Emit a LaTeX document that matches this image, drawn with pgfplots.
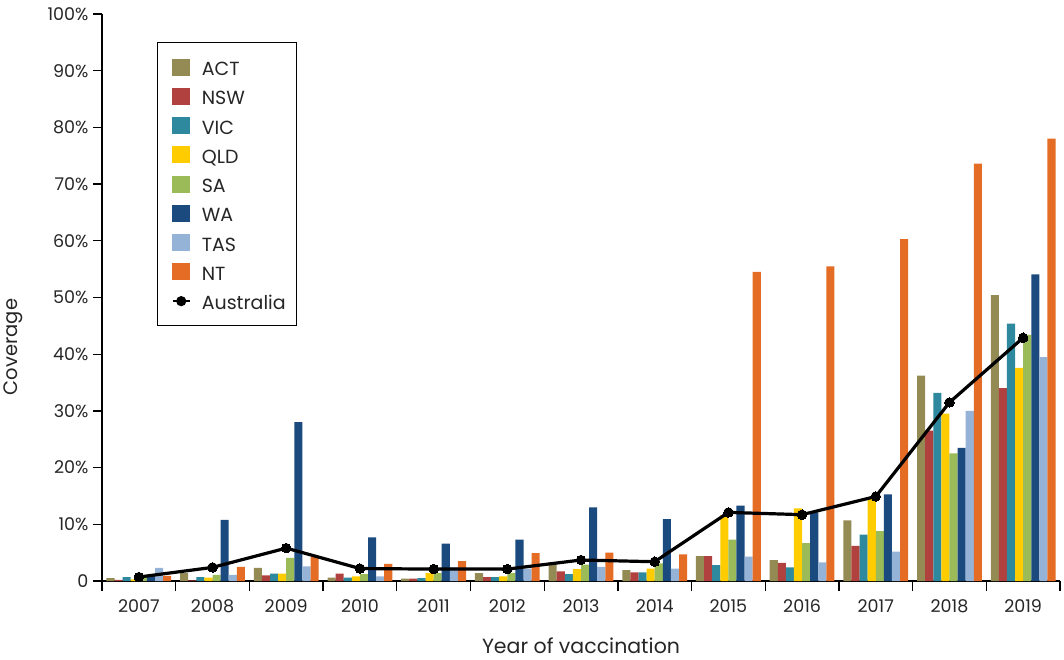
\documentclass[border=0pt]{standalone}
\usepackage{fontspec}
\setmainfont{Poppins}
\usepackage{pgfplots}
\pgfplotsset{compat=1.18}
\usepackage{pgfplotstable}
\definecolor{cACT}{HTML}{948A54}
\definecolor{cNSW}{HTML}{B0413E}
\definecolor{cVIC}{HTML}{2E889E}
\definecolor{cQLD}{HTML}{FFCC00}
\definecolor{cSA}{HTML}{9BBB59}
\definecolor{cWA}{HTML}{1B4A7E}
\definecolor{cTAS}{HTML}{95B3D7}
\definecolor{cNT}{HTML}{E46C24}
\pgfplotstableread{
x  ACT  NSW  VIC  QLD  SA   WA   TAS  NT   AUS
0  0.5  0.2  0.7  0.3  1.0  0.9  2.3  0.9  0.7
1  1.4  0.1  0.7  0.6  1.1  10.8 1.1  2.5  2.4
2  2.3  1.0  1.3  1.3  4.1  28.0 2.6  4.2  5.8
3  0.6  1.3  0.6  0.8  1.2  7.7  0.8  3.0  2.2
4  0.4  0.4  0.5  1.4  1.4  6.6  2.4  3.5  2.1
5  1.4  0.7  0.7  0.8  1.4  7.3  2.2  4.9  2.1
6  3.3  1.7  1.2  2.1  2.9  13.0 2.5  5.0  3.7
7  1.9  1.5  1.5  2.2  3.1  10.9 2.2  4.7  3.4
8  4.4  4.4  2.8  11.6 7.3  13.3 4.3  54.5 12.1
9  3.7  3.2  2.4  12.8 6.7  12.1 3.3  55.5 11.7
10 10.7 6.2  8.2  14.8 8.8  15.3 5.2  60.3 14.9
11 36.2 26.5 33.2 29.5 22.5 23.5 30.0 73.6 31.5
12 50.4 34.0 45.4 37.6 43.4 54.1 39.5 78.0 42.9
}\datatable
\begin{document}
\begin{tikzpicture}
\useasboundingbox (0pt,0pt) rectangle (1064pt,659pt);
\begin{axis}[
  at={(102pt,78pt)}, anchor=south west,
  scale only axis, width=958pt, height=567pt,
  xmin=-0.5, xmax=12.5, ymin=0, ymax=100,
  axis x line*=bottom, axis y line*=left,
  axis line style={-, line width=1.4pt, black},
  ybar=0pt, bar width=8.1pt,
  xtick={0,...,12},
  xticklabels={2007,2008,2009,2010,2011,2012,2013,2014,2015,2016,2017,2018,2019},
  minor xtick={-0.5,0.5,...,12.5},
  major x tick style={draw=none},
  minor x tick style={line width=1.3pt, black},
  major y tick style={line width=1.3pt, black},
  tick align=outside,
  major tick length=9pt, minor tick length=10pt,
  ytick={0,10,...,100},
  yticklabels={0,10\%,20\%,30\%,40\%,50\%,60\%,70\%,80\%,90\%,100\%},
  ticklabel style={font=\fontsize{17.5}{20}\selectfont, text=black!85},
  xticklabel style={yshift=-6pt},
  yticklabel style={xshift=-1pt},
  xlabel={Year of vaccination},
  ylabel={Coverage},
  every axis x label/.style={at={(axis description cs:0.5,-0.1270)}, anchor=base,
    font=\fontsize{20.5}{24}\selectfont, text=black!85},
  every axis y label/.style={at={(axis description cs:-0.0925,0.4127)}, anchor=center, rotate=90,
    font=\fontsize{19.5}{22}\selectfont, text=black!85},
  legend cell align=left,
  legend style={at={(axis description cs:0.0574,0.9506)}, anchor=north west,
    draw=black, line width=1.3pt, font=\fontsize{19}{23}\selectfont,
    inner xsep=10pt, inner ysep=15pt, row sep=10.25pt, column sep=9pt,
    nodes={inner sep=1pt, text height=17pt, text depth=0pt, text=black!85}},
  legend image code/.code={\path (0pt,0pt); \fill[#1] (3pt,-8.5pt) rectangle (21pt,8.5pt);},
]
\addplot[fill=cACT, draw=none] table[x=x,y=ACT] {\datatable};
\addplot[fill=cNSW, draw=none] table[x=x,y=NSW] {\datatable};
\addplot[fill=cVIC, draw=none] table[x=x,y=VIC] {\datatable};
\addplot[fill=cQLD, draw=none] table[x=x,y=QLD] {\datatable};
\addplot[fill=cSA, draw=none] table[x=x,y=SA] {\datatable};
\addplot[fill=cWA, draw=none] table[x=x,y=WA] {\datatable};
\addplot[fill=cTAS, draw=none] table[x=x,y=TAS] {\datatable};
\addplot[fill=cNT, draw=none] table[x=x,y=NT] {\datatable};
\addplot[sharp plot, black, line width=3.2pt, mark=*, mark size=4.8pt, mark options={fill=black, line width=0pt},
  legend image code/.code={\path (0pt,0pt) (21pt,0pt); \draw[black, line width=1.6pt] (4pt,0pt) -- (21pt,0pt); \fill[black] (12pt,0pt) circle (3.4pt);}]
  table[x=x,y=AUS] {\datatable};
\legend{ACT,NSW,VIC,QLD,SA,WA,TAS,NT,Australia}
\end{axis}
\end{tikzpicture}
\end{document}
